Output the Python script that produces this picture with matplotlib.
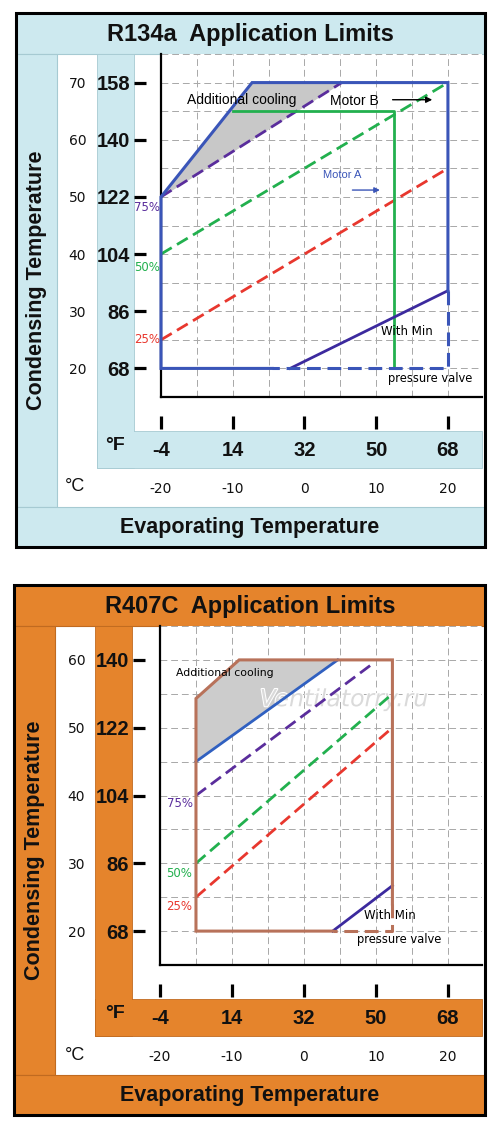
import numpy as np
import matplotlib
matplotlib.use("Agg")
import matplotlib.pyplot as plt
from matplotlib.patches import Rectangle
import matplotlib.patheffects as pe

plt.rcParams['axes.unicode_minus'] = False

# ---------------- data (all temperatures in °C) ----------------
C_TICKS_X = [-20, -10, 0, 10, 20]
F_TICKS_X = [-4, 14, 32, 50, 68]

# R134a
r134_c_ticks_y = [20, 30, 40, 50, 60, 70]
r134_f_ticks_y = [68, 86, 104, 122, 140, 158]
r134_env_solid_x = [-4.5, -20, -20, -7.3, 20, 20]
r134_env_solid_y = [20, 20, 50, 70, 70, 33.6]
r134_env_dash_x = [20, 20, -4.5]
r134_env_dash_y = [33.6, 20, 20]
r134_motorb_x = [-10, 12.5, 12.5]
r134_motorb_y = [65, 65, 20]
r134_minp_x = [-2, 20]
r134_minp_y = [20, 33.6]
r134_p75_x = [-20, 5.2]
r134_p75_y = [50, 70]
r134_p50_x = [-20, 20]
r134_p50_y = [40, 70]
r134_p25_x = [-20, 20]
r134_p25_y = [25, 55]
r134_cool_x = [-20, -7.3, 5.2]
r134_cool_top = [50, 70, 70]

# R407C
r407_c_ticks_y = [20, 30, 40, 50, 60]
r407_f_ticks_y = [68, 86, 104, 122, 140]
r407_env_solid_x = [4, -15, -15, -9, 12.3, 12.3]
r407_env_solid_y = [20, 20, 54.3, 60, 60, 24]
r407_env_dash_x = [12.3, 12.3, 4]
r407_env_dash_y = [24, 20, 20]
r407_limit_x = [-15, 4.7]
r407_limit_y = [45, 60]
r407_minp_x = [4, 12.3]
r407_minp_y = [20, 26.7]
r407_p75_x = [-15, 9.5]
r407_p75_y = [40, 59.4]
r407_p50_x = [-15, 12.3]
r407_p50_y = [30, 55]
r407_p25_x = [-15, 12.3]
r407_p25_y = [25, 50]
r407_cool_x = [-15, -9, 4.7]
r407_cool_top = [54.3, 60, 60]

# ---------------- styling ----------------
W, H = 500, 1132
BLUE_BG = '#cde9ef'
BLUE_EDGE = '#a6cad2'
ORANGE_BG = '#e5842c'
ORANGE_EDGE = '#c06a20'
ENV_BLUE = '#3a55b8'
ENV_BROWN = '#b8725a'
GREEN = '#22b04e'
PURPLE = '#5a2d9c'
RED = '#e8372e'
MINP = '#3c2a9e'
DASH = (0, (4.5, 2.2))
NARROW = ['Liberation Sans Narrow', 'Liberation Sans', 'DejaVu Sans']

fig = plt.figure(figsize=(W / 100, H / 100), dpi=100)


def rect(x0, y0, x1, y1, fc, ec='none', lw=0.0, z=-1):
    fig.add_artist(Rectangle((x0 / W, 1 - y1 / H), (x1 - x0) / W, (y1 - y0) / H,
                             transform=fig.transFigure, facecolor=fc,
                             edgecolor=ec, lw=lw, zorder=z))


def ftext(x, y, s, **kw):
    fig.text(x / W, 1 - y / H, s, ha='center', va='center', **kw)


c2f = lambda c: c * 9 / 5 + 32
f2c = lambda f: (f - 32) * 5 / 9
ident = (lambda v: v, lambda v: v)


def panel(top, bot, left, bg, edge, title, ylim, c_ticks_y, f_ticks_y):
    ft = top        # frame top
    tb = top + 41   # title band bottom
    rect(left, ft, 485, bot, 'white', z=-2)
    rect(left, ft, 485, tb, bg, edge, 0.8)
    rect(left, tb, left + 41, bot - 40, bg, edge, 0.8)
    rect(left + 81, tb, left + 118, bot - 79, bg, edge, 0.6)
    rect(left + 81, bot - 116, 482, bot - 79, bg, edge, 0.6)
    rect(left + 81.5, bot - 117, left + 117.5, bot - 115, bg, 'none', 0)
    rect(left, bot - 40, 485, bot, bg, edge, 0.8)
    rect(left, ft, 485, bot, 'none', 'black', 2.2, z=10)
    ftext(250, ft + 21, title, fontsize=17, fontweight='bold',
          family='Liberation Sans', color='#111111')
    ftext(250, bot - 20, 'Evaporating Temperature', fontsize=15.5,
          fontweight='bold', family='Liberation Sans', color='#111111')
    ftext(left + 21, (tb + bot - 40) / 2, 'Condensing Temperature', fontsize=15.5,
          fontweight='bold', family='Liberation Sans', rotation=90, color='#111111')

    ax_l, ax_r = 161 - (16 - left) * 0.5, 482
    ax_t, ax_b = tb, bot - 150
    ax = fig.add_axes([ax_l / W, 1 - ax_b / H, (ax_r - ax_l) / W, (ax_b - ax_t) / H])
    ax.set_xlim(-20, 24.75)
    ax.set_ylim(*ylim)
    ax.set_xticks(np.arange(-20, 25, 5))
    ax.set_yticks(np.arange(ylim[0], ylim[1] + 1, 5))
    ax.tick_params(length=0, labelleft=False, labelbottom=False)
    ax.set_axisbelow(True)
    ax.grid(True, color='#a8a8a8', lw=0.7, linestyle=(0, (7, 4)))
    for s in ('top', 'right'):
        ax.spines[s].set_visible(False)
    for s in ('left', 'bottom'):
        ax.spines[s].set_linewidth(1.6)
        ax.spines[s].set_color('black')

    wpx, hpx = ax_r - ax_l, ax_b - ax_t
    # °F y ticks
    sy = ax.secondary_yaxis(-15 / wpx, functions=(c2f, f2c))
    sy.set_yticks(f_ticks_y, labels=[str(v) for v in f_ticks_y],
                  fontweight='bold', family=NARROW, fontsize=14.5, color='#111111')
    sy.tick_params(direction='out', length=8.6, width=2.3, pad=3)
    # °C y labels
    sc = ax.secondary_yaxis(-72 / wpx, functions=ident)
    sc.set_yticks(c_ticks_y, labels=[str(v) for v in c_ticks_y],
                  family='DejaVu Sans', fontsize=10, color='#111111')
    sc.tick_params(length=0, pad=2)
    # °F x ticks
    sx = ax.secondary_xaxis(-32 / hpx, functions=(c2f, f2c))
    sx.set_xticks(F_TICKS_X, labels=[str(v) for v in F_TICKS_X],
                  fontweight='bold', family=NARROW, fontsize=14.5, color='#111111')
    sx.tick_params(direction='in', length=9.4, width=2.3, pad=8.5)
    # °C x labels
    scx = ax.secondary_xaxis(-81 / hpx, functions=ident)
    scx.set_xticks(C_TICKS_X, labels=[str(v) for v in C_TICKS_X],
                   family='DejaVu Sans', fontsize=10, color='#111111')
    scx.tick_params(length=0, pad=3)
    for a in (sy, sc, sx, scx):
        for s in a.spines.values():
            s.set_visible(False)
    ftext(115, ax_b + 49, '°F', fontsize=14, fontweight='bold',
          family='Liberation Sans', color='#111111')
    ftext(75, ax_b + 90, '°C', fontsize=13, family='Liberation Sans', color='#111111')
    return ax


def pct(ax, x, y, s, color, dx, dy):
    ax.annotate(s, xy=(x, y), xytext=(dx, dy), textcoords='offset points',
                ha='center', va='center', fontsize=8.5, color=color,
                family='DejaVu Sans', annotation_clip=False)


# ---------------- R134a ----------------
ax1 = panel(13, 547, 16, BLUE_BG, BLUE_EDGE, 'R134a  Application Limits',
            (15, 75), r134_c_ticks_y, r134_f_ticks_y)
lo = np.interp(r134_cool_x, r134_p75_x, r134_p75_y)
ax1.fill_between(r134_cool_x, lo, r134_cool_top, color='#c8c8c8', lw=0, zorder=1.5)
ax1.plot(r134_p75_x, r134_p75_y, color=PURPLE, lw=2, ls=DASH, zorder=3)
ax1.plot(r134_p50_x, r134_p50_y, color=GREEN, lw=2, ls=DASH, zorder=3)
ax1.plot(r134_p25_x, r134_p25_y, color=RED, lw=2, ls=DASH, zorder=3)
ax1.plot(r134_motorb_x, r134_motorb_y, color=GREEN, lw=2, zorder=3.2)
ax1.plot(r134_minp_x, r134_minp_y, color=MINP, lw=2, zorder=3.3)
ax1.plot(r134_env_solid_x, r134_env_solid_y, color=ENV_BLUE, lw=2.2, zorder=3.4,
         solid_joinstyle='miter', clip_on=False)
ax1.plot(r134_env_dash_x, r134_env_dash_y, color=ENV_BLUE, lw=2.2, ls=DASH, zorder=3.4,
         clip_on=False)
pct(ax1, r134_p75_x[0], r134_p75_y[0], '75%', PURPLE, -10, -7.5)
pct(ax1, r134_p50_x[0], r134_p50_y[0], '50%', GREEN, -10, -9.5)
pct(ax1, r134_p25_x[0], r134_p25_y[0], '25%', RED, -10, 0)
ax1.text(-16.4, 66.9, 'Additional cooling', fontsize=10, family='Liberation Sans',
         ha='left', va='center', zorder=4)
ax1.text(6.9, 66.7, 'Motor B', fontsize=10, family='Liberation Sans',
         ha='center', va='center', zorder=4)
ax1.annotate('', xy=(18.2, 67), xytext=(11.9, 67),
             arrowprops=dict(arrowstyle='-|>', color='black', lw=1, mutation_scale=9))
ax1.text(5.3, 53.8, 'Motor A', fontsize=8, family='Liberation Sans', color=ENV_BLUE,
         ha='center', va='center', zorder=4)
ax1.annotate('', xy=(10.9, 51.2), xytext=(6.3, 51.2),
             arrowprops=dict(arrowstyle='-|>', color=ENV_BLUE, lw=1, mutation_scale=8))
ax1.text(14.3, 26.4, 'With Min', fontsize=8.5, family='DejaVu Sans',
         ha='center', va='center', zorder=4)
ax1.text(17.5, 18.3, 'pressure valve', fontsize=8.3, family='DejaVu Sans',
         ha='center', va='center', zorder=4)

# ---------------- R407C ----------------
ax2 = panel(585, 1115, 14, ORANGE_BG, ORANGE_EDGE, 'R407C  Application Limits',
            (15, 65), r407_c_ticks_y, r407_f_ticks_y)
lo = np.interp(r407_cool_x, r407_limit_x, r407_limit_y)
ax2.fill_between(r407_cool_x, lo, r407_cool_top, color='#cccccc', lw=0, zorder=1.5)
ax2.text(5.6, 54.2, 'Ventilatorry.ru', fontsize=17, style='italic',
         family='DejaVu Sans', color='#dadada', ha='center', va='center', zorder=2.5,
         path_effects=[pe.withStroke(linewidth=1.5, foreground='white')])
ax2.plot(r407_p75_x, r407_p75_y, color=PURPLE, lw=2, ls=DASH, zorder=3)
ax2.plot(r407_p50_x, r407_p50_y, color=GREEN, lw=2, ls=DASH, zorder=3)
ax2.plot(r407_p25_x, r407_p25_y, color=RED, lw=2, ls=DASH, zorder=3)
ax2.plot(r407_limit_x, r407_limit_y, color='#3060c0', lw=2, zorder=3.2)
ax2.plot(r407_minp_x, r407_minp_y, color=MINP, lw=2, zorder=3.3)
ax2.plot(r407_env_solid_x, r407_env_solid_y, color=ENV_BROWN, lw=2.2, zorder=3.4,
         solid_joinstyle='miter')
ax2.plot(r407_env_dash_x, r407_env_dash_y, color=ENV_BROWN, lw=2.2, ls=DASH, zorder=3.4)
pct(ax2, r407_p75_x[0], r407_p75_y[0], '75%', PURPLE, -11.5, -6)
pct(ax2, r407_p50_x[0], r407_p50_y[0], '50%', GREEN, -12, -7.2)
pct(ax2, r407_p25_x[0], r407_p25_y[0], '25%', RED, -12, -6.5)
ax2.text(-17.8, 58.1, 'Additional cooling', fontsize=7.8, family='DejaVu Sans',
         ha='left', va='center', zorder=4)
ax2.text(12.0, 22.3, 'With Min', fontsize=8.5, family='DejaVu Sans',
         ha='center', va='center', zorder=4)
ax2.text(13.3, 18.7, 'pressure valve', fontsize=8.3, family='DejaVu Sans',
         ha='center', va='center', zorder=4)

fig.savefig('out.png', dpi=100)
